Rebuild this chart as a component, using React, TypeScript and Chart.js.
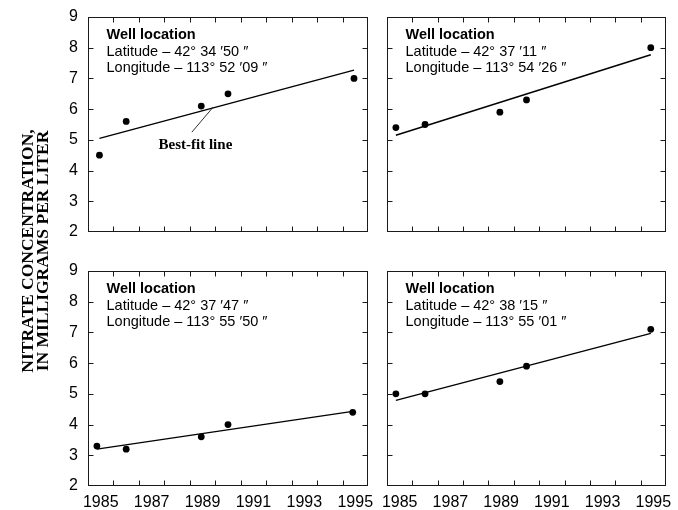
import { useEffect, useRef } from "react";
import { Chart, registerables } from "chart.js";

Chart.register(...registerables);

// Labelled years (each label sits in the middle of its year)
const yearLabels = [1985, 1987, 1989, 1991, 1993, 1995];
const yearMin = 1985;
const yearMax = 1996;
const concMin = 2;
const concMax = 9;

// Sampling dates, decimal years
const datesNW = [1985.45, 1986.5, 1989.45, 1990.5, 1995.45];
const datesOther = [1985.35, 1986.5, 1989.45, 1990.5, 1995.4];

// Nitrate, in milligrams per liter
const nitrateNW = [4.5, 5.6, 6.1, 6.5, 7.0];
const nitrateNE = [5.4, 5.5, 5.9, 6.3, 8.0];
const nitrateSW = [3.3, 3.2, 3.6, 4.0, 4.4];
const nitrateSE = [5.0, 5.0, 5.4, 5.9, 7.1];

// Best-fit line values at the first and last sampling dates
const fitNW = [5.05, 7.27];
const fitNE = [5.15, 7.77];
const fitSW = [3.2, 4.43];
const fitSE = [4.79, 6.97];

const latitudes = ["42° 34 ′50 ″", "42° 37 ′11 ″", "42° 37 ′47 ″", "42° 38 ′15 ″"];
const longitudes = ["113° 52 ′09 ″", "113° 54 ′26 ″", "113° 55 ′50 ″", "113° 55 ′01 ″"];

// Best-fit line callout: label anchor and leader line ends (data units)
const calloutLabel = { x: 1989.22, y: 4.84, text: "Best-fit line" };
const calloutLeader = [
  { x: 1989.08, y: 5.25 },
  { x: 1989.92, y: 6.07 },
];

const SANS = "'Liberation Sans', Arial, Helvetica, sans-serif";
const SERIF = "'Liberation Serif', 'Times New Roman', serif";

type PanelSpec = {
  dates: number[];
  values: number[];
  fit: number[];
  lat: string;
  lon: string;
  showX: boolean;
  showY: boolean;
  callout: boolean;
  box: { left: number; top: number; width: number; height: number };
  area: { left: number; top: number; right: number; bottom: number };
};

const frameAndNotes = {
  id: "frameAndNotes",
  afterDraw(chart: any, _args: any, opts: any) {
    const { ctx, chartArea } = chart;
    const xs = chart.scales.x;
    const ys = chart.scales.y;
    const L = Math.round(chartArea.left) + 0.5;
    const R = Math.round(chartArea.right) - 0.5;
    const T = Math.round(chartArea.top) + 0.5;
    const B = Math.round(chartArea.bottom) - 0.5;
    ctx.save();
    ctx.strokeStyle = "#1a1a1a";
    ctx.lineWidth = 1;
    ctx.strokeRect(L, T, R - L, B - T);
    const tl = 5;
    ctx.beginPath();
    for (let yr = yearMin + 1; yr < yearMax; yr++) {
      const px = Math.round(xs.getPixelForValue(yr)) + 0.5;
      ctx.moveTo(px, T);
      ctx.lineTo(px, T + tl);
      ctx.moveTo(px, B);
      ctx.lineTo(px, B - tl);
    }
    for (let v = concMin + 1; v < concMax; v++) {
      const py = Math.round(ys.getPixelForValue(v)) + 0.5;
      ctx.moveTo(L, py);
      ctx.lineTo(L + tl, py);
      ctx.moveTo(R, py);
      ctx.lineTo(R - tl, py);
    }
    ctx.stroke();

    // Well location block
    const tx = chartArea.left + 18.5;
    const ty = chartArea.top + 22;
    ctx.fillStyle = "#000";
    ctx.textAlign = "left";
    ctx.textBaseline = "alphabetic";
    ctx.font = `bold 14.5px ${SANS}`;
    ctx.fillText("Well location", tx, ty);
    ctx.font = `14.5px ${SANS}`;
    ctx.fillText(`Latitude – ${opts.lat}`, tx, ty + 16.5);
    ctx.fillText(`Longitude – ${opts.lon}`, tx, ty + 33);

    if (opts.callout) {
      ctx.beginPath();
      ctx.lineWidth = 0.9;
      ctx.moveTo(xs.getPixelForValue(calloutLeader[0].x), ys.getPixelForValue(calloutLeader[0].y));
      ctx.lineTo(xs.getPixelForValue(calloutLeader[1].x), ys.getPixelForValue(calloutLeader[1].y));
      ctx.stroke();
      ctx.font = `bold 15px ${SERIF}`;
      ctx.textAlign = "center";
      ctx.textBaseline = "middle";
      ctx.fillText(calloutLabel.text, xs.getPixelForValue(calloutLabel.x), ys.getPixelForValue(calloutLabel.y));
    }
    ctx.restore();
  },
};

function Panel({ spec }: { spec: PanelSpec }) {
  const ref = useRef<HTMLCanvasElement>(null);
  useEffect(() => {
    const canvas = ref.current!;
    const { box, area } = spec;
    const points = spec.dates.map((d, i) => ({ x: d, y: spec.values[i] }));
    const fitLine = [
      { x: spec.dates[0], y: spec.fit[0] },
      { x: spec.dates[spec.dates.length - 1], y: spec.fit[1] },
    ];
    const chart = new Chart(canvas, {
      type: "scatter",
      data: {
        datasets: [
          {
            type: "line",
            data: fitLine,
            borderColor: "#000",
            borderWidth: 1.4,
            pointRadius: 0,
            fill: false,
          } as any,
          {
            data: points,
            pointRadius: 3.4,
            pointBackgroundColor: "#000",
            pointBorderWidth: 0,
          },
        ],
      },
      options: {
        animation: false,
        responsive: false,
        maintainAspectRatio: false,
        events: [],
        layout: {
          autoPadding: false,
          padding: {
            left: 0,
            top: area.top,
            right: box.width - area.right,
            bottom: 0,
          },
        },
        plugins: {
          legend: { display: false },
          tooltip: { enabled: false },
          frameAndNotes: { lat: spec.lat, lon: spec.lon, callout: spec.callout },
        } as any,
        scales: {
          x: {
            type: "linear",
            min: yearMin,
            max: yearMax,
            grid: { display: false, drawTicks: false },
            border: { display: false },
            afterBuildTicks: (s: any) => {
              s.ticks = yearLabels.map((y) => ({ value: y + 0.5 }));
            },
            afterFit: (s: any) => {
              s.height = box.height - area.bottom;
              s.paddingLeft = 0;
              s.paddingRight = 0;
            },
            ticks: {
              display: spec.showX,
              autoSkip: false,
              maxRotation: 0,
              minRotation: 0,
              padding: 7,
              color: "#000",
              font: { family: SANS, size: 16 },
              callback: (v: any) => String(Math.floor(Number(v))),
            },
          },
          y: {
            type: "linear",
            min: concMin,
            max: concMax,
            grid: { display: false, drawTicks: false },
            border: { display: false },
            afterFit: (s: any) => {
              s.width = area.left;
              s.paddingTop = 0;
              s.paddingBottom = 0;
            },
            ticks: {
              display: spec.showY,
              stepSize: 1,
              padding: 10,
              color: "#000",
              font: { family: SANS, size: 16 },
            },
          },
        },
      } as any,
      plugins: [frameAndNotes],
    });
    return () => chart.destroy();
  }, [spec]);
  const { box } = spec;
  return (
    <canvas
      ref={ref}
      width={box.width}
      height={box.height}
      style={{
        position: "absolute",
        left: box.left,
        top: box.top,
        width: box.width,
        height: box.height,
      }}
    />
  );
}

// Canvas boxes (page px) and the plot area inside each canvas
const panels: PanelSpec[] = [
  {
    dates: datesNW, values: nitrateNW, fit: fitNW, lat: latitudes[0], lon: longitudes[0],
    showX: false, showY: true, callout: true,
    box: { left: 0, top: 0, width: 375, height: 245 },
    area: { left: 88, top: 17, right: 368, bottom: 232 },
  },
  {
    dates: datesOther, values: nitrateNE, fit: fitNE, lat: latitudes[1], lon: longitudes[1],
    showX: false, showY: false, callout: false,
    box: { left: 375, top: 0, width: 303, height: 245 },
    area: { left: 12, top: 17, right: 291, bottom: 232 },
  },
  {
    dates: datesOther, values: nitrateSW, fit: fitSW, lat: latitudes[2], lon: longitudes[2],
    showX: true, showY: true, callout: false,
    box: { left: 0, top: 245, width: 375, height: 265 },
    area: { left: 88, top: 26, right: 368, bottom: 241 },
  },
  {
    dates: datesOther, values: nitrateSE, fit: fitSE, lat: latitudes[3], lon: longitudes[3],
    showX: true, showY: false, callout: false,
    box: { left: 375, top: 245, width: 303, height: 265 },
    area: { left: 12, top: 26, right: 291, bottom: 241 },
  },
];

export default function App() {
  useEffect(() => {
    document.body.style.margin = "0";
  }, []);
  return (
    <div style={{ position: "relative", width: 678, height: 510, background: "#fff", overflow: "hidden" }}>
      {panels.map((p, i) => (
        <Panel key={i} spec={p} />
      ))}
      <div
        style={{
          position: "absolute",
          left: 35 - 140,
          top: 251 - 20,
          width: 280,
          height: 40,
          transform: "rotate(-90deg)",
          transformOrigin: "50% 50%",
          textAlign: "center",
          fontFamily: SERIF,
          fontWeight: "bold",
          fontSize: 17.5,
          lineHeight: "15px",
          color: "#000",
          whiteSpace: "nowrap",
          paddingTop: 5,
          boxSizing: "border-box",
        }}
      >
        NITRATE CONCENTRATION,
        <br />
        IN MILLIGRAMS PER LITER
      </div>
    </div>
  );
}
